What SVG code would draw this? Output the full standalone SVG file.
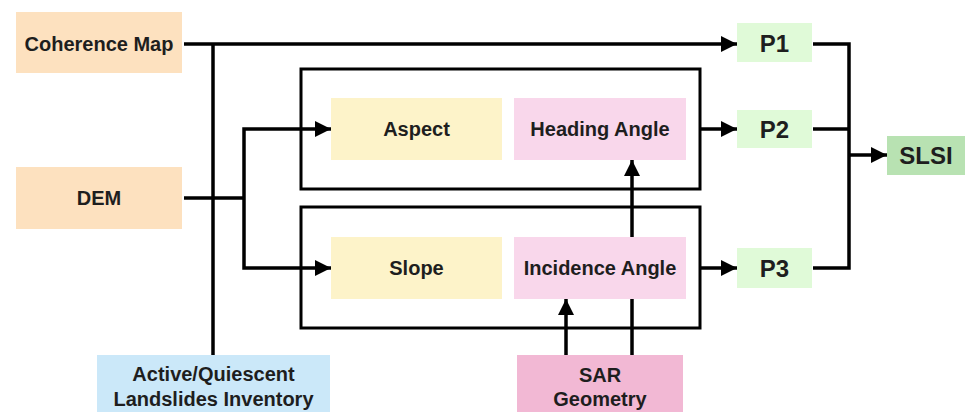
<svg xmlns="http://www.w3.org/2000/svg" width="965" height="412" viewBox="0 0 965 412">
  <style>
    text { font-family: "Liberation Sans", Arial, Helvetica, sans-serif; font-weight: bold; fill: #1e1e1e; text-anchor: middle; }
    .lbl { font-size: 20px; }
    .big { font-size: 24px; }
    .wire { fill: none; stroke: #000; stroke-width: 3.5; }
    .arr { marker-end: url(#head); }
    .frame { fill: none; stroke: #000; stroke-width: 3; }
  </style>
  <defs>
    <marker id="head" markerUnits="userSpaceOnUse" markerWidth="16" markerHeight="16" viewBox="0 0 16 16" refX="16" refY="8" orient="auto">
      <path d="M0,0 L16,8 L0,16 Z" fill="#000"/>
    </marker>
  </defs>
  <rect width="965" height="412" fill="#fff"/>

  <!-- group frames -->
  <rect class="frame" x="301" y="69" width="399" height="120"/>
  <rect class="frame" x="301" y="207" width="399" height="121"/>

  <!-- input nodes -->
  <g id="coherence-map">
    <rect x="16" y="12" width="166" height="61" fill="#fde1bf"/>
    <text class="lbl" x="99" y="51">Coherence Map</text>
  </g>
  <g id="dem">
    <rect x="16" y="167" width="166" height="62" fill="#fde1bf"/>
    <text class="lbl" x="99" y="205">DEM</text>
  </g>
  <g id="inventory">
    <rect x="97" y="355" width="233" height="60" fill="#cbe8f9"/>
    <text class="lbl" x="213.5" y="381">Active/Quiescent</text>
    <text class="lbl" x="213.5" y="406">Landslides Inventory</text>
  </g>
  <g id="sar-geometry">
    <rect x="517" y="355" width="166" height="60" fill="#f2b8d4"/>
    <text class="lbl" x="600" y="382">SAR</text>
    <text class="lbl" x="600" y="406">Geometry</text>
  </g>

  <!-- derived layers -->
  <g id="aspect">
    <rect x="331" y="98" width="171" height="62" fill="#fdf3c9"/>
    <text class="lbl" x="416.5" y="136">Aspect</text>
  </g>
  <g id="heading-angle">
    <rect x="514" y="98" width="172" height="62" fill="#f9d7eb"/>
    <text class="lbl" x="600" y="136">Heading Angle</text>
  </g>
  <g id="slope">
    <rect x="331" y="237" width="171" height="62" fill="#fdf3c9"/>
    <text class="lbl" x="416.5" y="275">Slope</text>
  </g>
  <g id="incidence-angle">
    <rect x="514" y="237" width="172" height="62" fill="#f9d7eb"/>
    <text class="lbl" x="600" y="275">Incidence Angle</text>
  </g>

  <!-- parameters and index -->
  <g id="p1">
    <rect x="737" y="23" width="75" height="39" fill="#e0fad8"/>
    <text class="big" x="774.5" y="51.5">P1</text>
  </g>
  <g id="p2">
    <rect x="737" y="110" width="75" height="38" fill="#e0fad8"/>
    <text class="big" x="774.5" y="138">P2</text>
  </g>
  <g id="p3">
    <rect x="737" y="248" width="75" height="40" fill="#e0fad8"/>
    <text class="big" x="774.5" y="277">P3</text>
  </g>
  <g id="slsi">
    <rect x="887" y="136" width="80" height="39" fill="#b8e2b2"/>
    <text class="big" x="926" y="164">SLSI</text>
  </g>

  <!-- connectors -->
  <g id="connectors">
    <path class="wire arr" d="M184,44 H737"/>
    <path class="wire" d="M213,44 V355"/>
    <path class="wire" d="M184,198 H244"/>
    <path class="wire arr" d="M244,198 V129 H331"/>
    <path class="wire arr" d="M244,198 V268 H331"/>
    <path class="wire arr" d="M700,129 H737"/>
    <path class="wire arr" d="M700,268 H737"/>
    <path class="wire arr" d="M632,237 V160"/>
    <path class="wire arr" d="M566,355 V299"/>
    <path class="wire" d="M632,355 V299"/>
    <path class="wire" d="M813,44 H849 V268 H813"/>
    <path class="wire" d="M813,129 H849"/>
    <path class="wire arr" d="M849,155 H887"/>
  </g>
</svg>
